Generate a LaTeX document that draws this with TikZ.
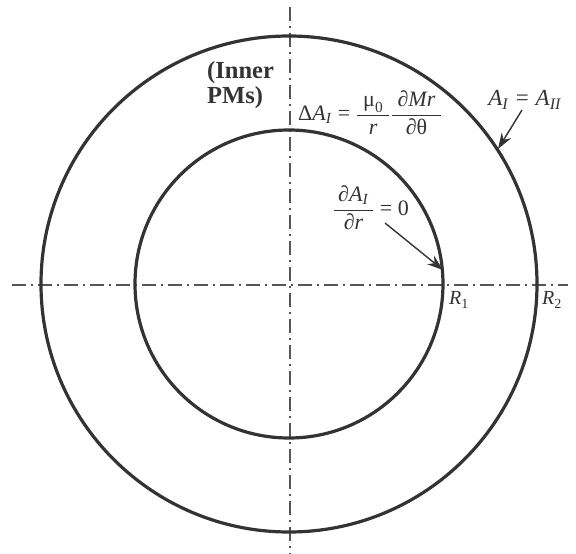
\documentclass[tikz,border=0pt]{standalone}
\usepackage{amsmath}
\usepackage{fontspec}
\setmainfont{Liberation Serif}
\usetikzlibrary{arrows.meta}
\definecolor{ink}{HTML}{333333}
\definecolor{axisgray}{HTML}{555555}
\newcommand\myeq{\mathrel{\text{=}}}
\begin{document}
\begin{tikzpicture}[x=1pt,y=-1pt,
  ring/.style={draw=ink,line width=3.2pt},
  axisline/.style={draw=axisgray,line width=1.2pt,dash pattern=on 14pt off 5pt on 2pt off 5pt},
  arr/.style={draw=ink,line width=1.4pt,-{Stealth[length=16pt,width=11pt]}},
  lbl/.style={inner sep=0pt,text=ink,font=\fontsize{22}{26}\selectfont}]
\useasboundingbox (0,0) rectangle (576,554);
\coordinate (O) at (289,284);
\coordinate (xl) at (12,285);
\coordinate (xr) at (568,285);
\coordinate (yt) at (290,7);
\coordinate (yb) at (290,554);
\draw[axisline] (xl) -- (xr);
\draw[axisline] (yt) -- (yb);
\draw[ring] (O) circle[radius=154pt];
\draw[ring] (O) circle[radius=248pt];
\node[lbl,align=left,anchor=north west,font=\fontsize{24.5}{25}\selectfont\bfseries] (inner) at (207,61) {(Inner\\PMs)};
\node[lbl,anchor=west] (poisson) at (298,113)
  {$\text{Δ\textit{A}}_{\text{\textit{I}}} \myeq \dfrac{\hspace{6pt}\text{μ}_{\text{0}}\hspace{6pt}}{\text{\textit{r}}}\dfrac{\hspace{6pt}\text{∂\textit{Mr}}\hspace{6pt}}{\text{∂θ}}$};
\node[lbl] (neumann) at (371,208)
  {$\dfrac{\hspace{4pt}\text{∂\textit{A}}_{\text{\textit{I}}}\hspace{4pt}}{\text{∂\textit{r}}} \myeq \text{0}$};
\node[lbl,font=\fontsize{23}{26}\selectfont] (cont) at (525,100)
  {$\text{\textit{A}}_{\text{\textit{I}}} \myeq \text{\textit{A}}_{\text{\textit{II}}}$};
\node[lbl,font=\fontsize{20}{24}\selectfont] (r1) at (459,300) {$\text{\textit{R}}_{\text{1}}$};
\node[lbl,font=\fontsize{20}{24}\selectfont] (r2) at (552,300) {$\text{\textit{R}}_{\text{2}}$};
\coordinate (p1) at (443,270);
\coordinate (p2) at (498,149);
\draw[arr] ([xshift=14pt,yshift=-15pt]neumann.center) -- (p1);
\draw[arr] ([xshift=-3pt,yshift=-10pt]cont.center) -- (p2);
\end{tikzpicture}
\end{document}
